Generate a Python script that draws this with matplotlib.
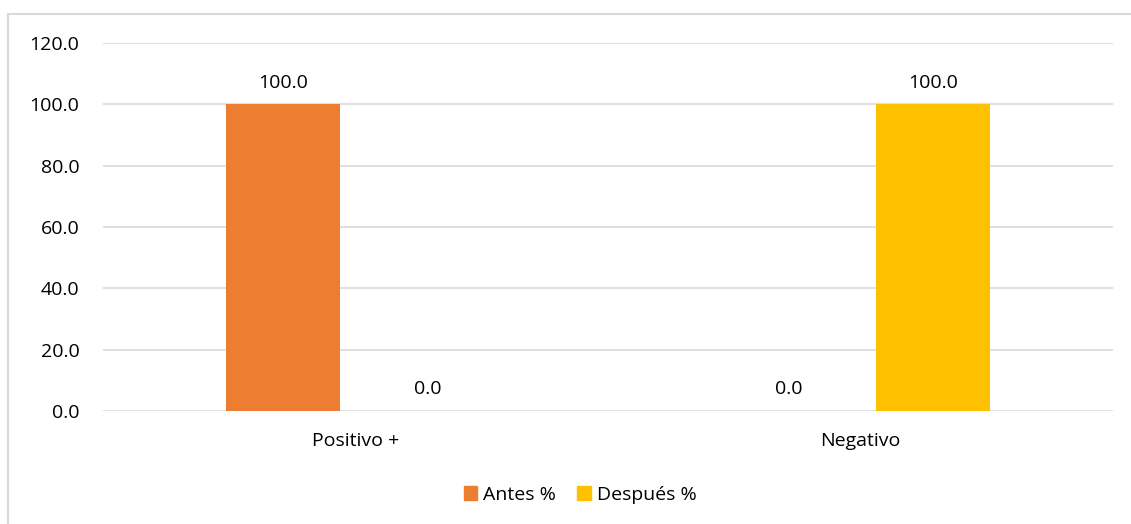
import matplotlib
matplotlib.use('Agg')
import matplotlib.pyplot as plt
import numpy as np
from matplotlib.lines import Line2D
from matplotlib.patches import Patch

categories = ['Positivo +', 'Negativo']
antes = [100.0, 0.0]
despues = [0.0, 100.0]
series_names = ['Antes %', 'Después %']
colors = ['#ED7D31', '#FFC000']

plt.rcParams['font.family'] = ['Open Sans', 'DejaVu Sans']
FS = 14

W, H = 1131, 524
fig = plt.figure(figsize=(W / 100, H / 100), dpi=100)
ax = fig.add_axes([103 / W, 1 - 411 / H, (1113 - 103) / W, (411 - 43) / H])

x = np.arange(len(categories))
width = 0.226
offset = 0.143
b1 = ax.bar(x - offset, antes, width, color=colors[0], zorder=3)
b2 = ax.bar(x + offset, despues, width, color=colors[1], zorder=3)

for bars in (b1, b2):
    for rect in bars:
        h = rect.get_height()
        ax.annotate(f'{h:.1f}', (rect.get_x() + rect.get_width() / 2, h),
                    xytext=(0, 9), textcoords='offset points',
                    ha='center', va='bottom', fontsize=FS, color='#000000')

ax.set_xlim(-0.5, 1.5)
ax.set_ylim(0, 120)
ax.set_yticks(np.arange(0, 121, 20))
ax.set_yticklabels([f'{v:.1f}' for v in np.arange(0, 121, 20)], fontsize=FS)
ax.set_xticks(x)
ax.set_xticklabels(categories, fontsize=FS)
ax.tick_params(axis='x', length=0, pad=15)
ax.tick_params(axis='y', length=0, pad=17)
ax.grid(axis='y', color='#D9D9D9', linewidth=1.2, zorder=0)
for s in ax.spines.values():
    s.set_visible(False)

handles = [Patch(color=c) for c in colors]
fig.legend(handles, series_names, loc='center', bbox_to_anchor=(580 / W, 1 - 495 / H),
           ncol=2, frameon=False, fontsize=FS, handlelength=0.7, handleheight=0.7,
           handletextpad=0.3, columnspacing=1.1)

# chart border (top and left visible)
fig.add_artist(Line2D([8 / W, 1.0], [1 - 14 / H, 1 - 14 / H], color='#D9D9D9', linewidth=1.5))
fig.add_artist(Line2D([8 / W, 8 / W], [0.0, 1 - 14 / H], color='#D9D9D9', linewidth=1.5))

fig.savefig('out.png', dpi=100)
